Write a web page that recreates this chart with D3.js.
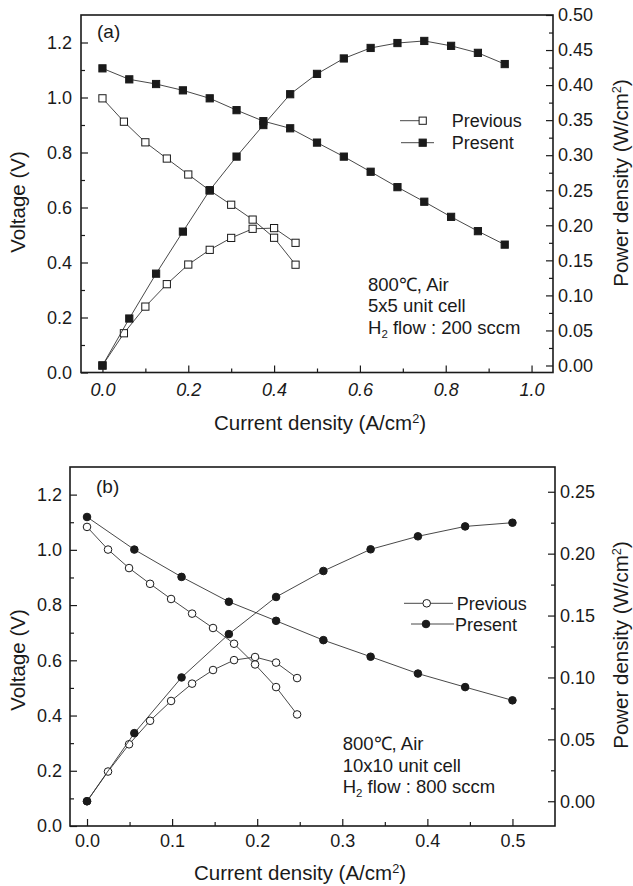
<!DOCTYPE html>
<html>
<head>
<meta charset="utf-8">
<script src="https://cdn.jsdelivr.net/npm/d3@7"></script>
<style>
  body { margin: 0; background: #fff; }
  svg { font-family: "Liberation Sans", Arial, sans-serif; }
</style>
</head>
<body>
<svg id="chart" width="633" height="886"></svg>
<script>
// ---- panel (a): 5x5 unit cell ----
const aPrevCurrent = [0, 0.05, 0.1, 0.15, 0.2, 0.25, 0.3, 0.35, 0.4, 0.45];
const aPrevVoltage = [0.997, 0.912, 0.837, 0.778, 0.720, 0.662, 0.610, 0.556, 0.490, 0.392];
const aPrevPower = [0.0, 0.046, 0.084, 0.116, 0.144, 0.165, 0.182, 0.195, 0.196, 0.175];
const aPresCurrent = [0, 0.0625, 0.125, 0.1875, 0.25, 0.3125, 0.375, 0.4375, 0.5, 0.5625, 0.625, 0.6875, 0.75, 0.8125, 0.875, 0.9375];
const aPresVoltage = [1.106, 1.066, 1.049, 1.026, 0.997, 0.954, 0.914, 0.888, 0.836, 0.785, 0.730, 0.674, 0.621, 0.566, 0.514, 0.465];
const aPresPower = [0.0, 0.067, 0.131, 0.191, 0.250, 0.298, 0.343, 0.387, 0.416, 0.438, 0.453, 0.460, 0.463, 0.456, 0.446, 0.430];

// ---- panel (b): 10x10 unit cell ----
const bPrevCurrent = [0, 0.0247, 0.0494, 0.0741, 0.0988, 0.1235, 0.1481, 0.1728, 0.1975, 0.2222, 0.2469];
const bPrevVoltage = [1.083, 1.001, 0.934, 0.877, 0.822, 0.769, 0.717, 0.660, 0.585, 0.503, 0.404];
const bPrevPower = [0.0, 0.024, 0.046, 0.065, 0.081, 0.095, 0.106, 0.114, 0.1165, 0.112, 0.0995];
const bPresCurrent = [0, 0.0556, 0.1111, 0.1667, 0.2222, 0.2778, 0.3333, 0.3889, 0.4444, 0.5];
const bPresVoltage = [1.119, 1.001, 0.902, 0.812, 0.743, 0.673, 0.613, 0.552, 0.503, 0.455];
const bPresPower = [0.0, 0.055, 0.100, 0.135, 0.165, 0.186, 0.2035, 0.214, 0.222, 0.225];

// tick values
const voltTicks = [0, 0.2, 0.4, 0.6, 0.8, 1.0, 1.2];
const voltMinor = [0.1, 0.3, 0.5, 0.7, 0.9, 1.1];
const aCurTicks = [0, 0.2, 0.4, 0.6, 0.8, 1.0];
const aCurMinor = [0.1, 0.3, 0.5, 0.7, 0.9];
const aPowTicks = [0, 0.05, 0.1, 0.15, 0.2, 0.25, 0.3, 0.35, 0.4, 0.45, 0.5];
const aPowMinor = [0.025, 0.075, 0.125, 0.175, 0.225, 0.275, 0.325, 0.375, 0.425, 0.475];
const bCurTicks = [0, 0.1, 0.2, 0.3, 0.4, 0.5];
const bCurMinor = [0.05, 0.15, 0.25, 0.35, 0.45];
const bPowTicks = [0, 0.05, 0.1, 0.15, 0.2, 0.25];
const bPowMinor = [0.025, 0.075, 0.125, 0.175, 0.225];

const svg = d3.select('#chart');
const ink = '#1a1a1a';

function zip(xs, ys) { return xs.map((v, i) => [v, ys[i]]); }

function drawMarkers(g, pts, x, y, shape, filled) {
  if (shape === 'square') {
    g.selectAll(null).data(pts).enter().append('rect')
      .attr('x', d => x(d[0]) - 3.6).attr('y', d => y(d[1]) - 3.6)
      .attr('width', 7.2).attr('height', 7.2)
      .attr('fill', filled ? ink : '#fff').attr('stroke', ink).attr('stroke-width', 1);
  } else {
    g.selectAll(null).data(pts).enter().append('circle')
      .attr('cx', d => x(d[0])).attr('cy', d => y(d[1])).attr('r', 3.8)
      .attr('fill', filled ? ink : '#fff').attr('stroke', ink).attr('stroke-width', 1);
  }
}

function drawSeries(g, pts, x, y, shape, filled) {
  const line = d3.line().x(d => x(d[0])).y(d => y(d[1]));
  g.append('path').datum(pts)
    .attr('fill', 'none').attr('stroke', '#333').attr('stroke-width', 0.9)
    .attr('d', line);
  drawMarkers(g, pts, x, y, shape, filled);
}

function unitLabel(t, before, unit) {
  // e.g. "Current density (A/cm" + sup 2 + ")"
  t.append('tspan').text(before + unit);
  t.append('tspan').text('2').attr('font-size', '0.62em').attr('dy', '-0.55em');
  t.append('tspan').text(')').attr('font-size', '1em').attr('dy', '0.34em');
}

function drawPanel(p) {
  const g = svg.append('g');
  const x = d3.scaleLinear().domain(p.xDomain).range([p.left, p.right]);
  const yV = d3.scaleLinear().domain([0, 1.3]).range([p.bottom, p.top]);
  const yP = d3.scaleLinear().domain(p.pDomain).range([p.bottom, p.top]);

  // axes (ticks point inward)
  const xAxis = g.append('g').attr('transform', `translate(0,${p.bottom})`)
    .call(d3.axisBottom(x).tickValues(p.xTicks).tickSize(-7).tickPadding(p.xPad)
      .tickFormat(d3.format('.1f')));
  g.append('g').attr('transform', `translate(0,${p.bottom})`)
    .call(d3.axisBottom(x).tickValues(p.xMinor).tickSize(-4).tickFormat(''));
  if (p.italicX) xAxis.selectAll('text').attr('font-style', 'italic');

  g.append('g').attr('transform', `translate(${p.left},0)`)
    .call(d3.axisLeft(yV).tickValues(voltTicks).tickSize(-7).tickPadding(p.yPad)
      .tickFormat(d3.format('.1f')));
  g.append('g').attr('transform', `translate(${p.left},0)`)
    .call(d3.axisLeft(yV).tickValues(voltMinor).tickSize(-4).tickFormat(''));

  g.append('g').attr('transform', `translate(${p.right},0)`)
    .call(d3.axisRight(yP).tickValues(p.pTicks).tickSize(-7).tickPadding(5)
      .tickFormat(d3.format('.2f')));
  g.append('g').attr('transform', `translate(${p.right},0)`)
    .call(d3.axisRight(yP).tickValues(p.pMinor).tickSize(-4).tickFormat(''));

  g.selectAll('.domain').remove();
  g.selectAll('.tick line').attr('stroke', ink).attr('stroke-width', 1.2);
  g.selectAll('.tick text').attr('font-size', 18).attr('fill', ink)
    .attr('font-family', '"Liberation Sans", Arial, sans-serif');

  // frame
  g.append('rect').attr('x', p.left).attr('y', p.top)
    .attr('width', p.right - p.left).attr('height', p.bottom - p.top)
    .attr('fill', 'none').attr('stroke', ink).attr('stroke-width', 1.6);

  // series: previous first, present on top
  drawSeries(g, zip(p.prevCur, p.prevV), x, yV, p.shape, false);
  drawSeries(g, zip(p.prevCur, p.prevP), x, yP, p.shape, false);
  drawSeries(g, zip(p.presCur, p.presV), x, yV, p.shape, true);
  drawSeries(g, zip(p.presCur, p.presP), x, yP, p.shape, true);

  // panel label
  g.append('text').attr('x', p.tag[1]).attr('y', p.tag[2])
    .attr('font-size', 19).attr('fill', ink).text(p.tag[0]);

  // legend
  p.legend.forEach(l => {
    g.append('line').attr('x1', l.x1).attr('x2', l.x2).attr('y1', l.y).attr('y2', l.y)
      .attr('stroke', '#333').attr('stroke-width', 0.9);
    drawMarkers(g, [[l.mx, l.y]], v => v, v => v, p.shape, l.filled);
    g.append('text').attr('x', l.tx).attr('y', l.y + 6.5)
      .attr('font-size', 18).attr('fill', ink).text(l.label);
  });

  // conditions note
  const note = g.append('g').attr('font-size', 18.5).attr('fill', ink);
  note.append('text').attr('x', p.noteX).attr('y', p.noteY).text('800\u2103, Air');
  note.append('text').attr('x', p.noteX).attr('y', p.noteY + 21.7).text(p.cellText);
  const h2 = note.append('text').attr('x', p.noteX).attr('y', p.noteY + 43.4);
  h2.append('tspan').text('H');
  h2.append('tspan').text('2').attr('font-size', '0.62em').attr('dy', '0.35em');
  h2.append('tspan').text(' flow : ' + p.flowText).attr('font-size', '1em').attr('dy', '-0.22em');

  // axis titles
  const xt = g.append('text').attr('x', p.xTitle[0]).attr('y', p.xTitle[1])
    .attr('text-anchor', 'middle').attr('font-size', 20.5).attr('fill', ink);
  unitLabel(xt, 'Current density ', '(A/cm');

  g.append('text').attr('transform', `translate(${p.vTitle[0]},${p.vTitle[1]}) rotate(-90)`)
    .attr('text-anchor', 'middle').attr('font-size', 20.5).attr('fill', ink)
    .text('Voltage (V)');

  const pt = g.append('text').attr('transform', `translate(${p.pTitle[0]},${p.pTitle[1]}) rotate(-90)`)
    .attr('text-anchor', 'middle').attr('font-size', 20.5).attr('fill', ink);
  unitLabel(pt, 'Power density ', '(W/cm');
}

drawPanel({
  left: 81, right: 553, top: 15, bottom: 372.5,
  xDomain: [-0.05, 1.05], pDomain: [-0.01, 0.50],
  xTicks: aCurTicks, xMinor: aCurMinor, pTicks: aPowTicks, pMinor: aPowMinor,
  xPad: 11, yPad: 9, italicX: true, shape: 'square',
  prevCur: aPrevCurrent, prevV: aPrevVoltage, prevP: aPrevPower,
  presCur: aPresCurrent, presV: aPresVoltage, presP: aPresPower,
  tag: ['(a)', 97, 38],
  legend: [
    { label: 'Previous', filled: false, x1: 400, x2: 420, mx: 422.7, tx: 451.7, y: 120.7 },
    { label: 'Present', filled: true, x1: 401, x2: 434, mx: 422.7, tx: 451.7, y: 142.7 }
  ],
  noteX: 368, noteY: 290.7, cellText: '5x5 unit cell', flowText: '200 sccm',
  xTitle: [320, 430], vTitle: [25, 202], pTitle: [628, 183]
});

drawPanel({
  left: 70, right: 555, top: 467, bottom: 826,
  xDomain: [-0.02, 0.55], pDomain: [-0.02, 0.27],
  xTicks: bCurTicks, xMinor: bCurMinor, pTicks: bPowTicks, pMinor: bPowMinor,
  xPad: 8, yPad: 8, italicX: false, shape: 'circle',
  prevCur: bPrevCurrent, prevV: bPrevVoltage, prevP: bPrevPower,
  presCur: bPresCurrent, presV: bPresVoltage, presP: bPresPower,
  tag: ['(b)', 96, 493],
  legend: [
    { label: 'Previous', filled: false, x1: 404, x2: 453, mx: 426.7, tx: 456.7, y: 603.3 },
    { label: 'Present', filled: true, x1: 411, x2: 454, mx: 426, tx: 455, y: 624 }
  ],
  noteX: 342.7, noteY: 750, cellText: '10x10 unit cell', flowText: '800 sccm',
  xTitle: [300, 880], vTitle: [25, 660], pTitle: [628, 645]
});
</script>
</body>
</html>
